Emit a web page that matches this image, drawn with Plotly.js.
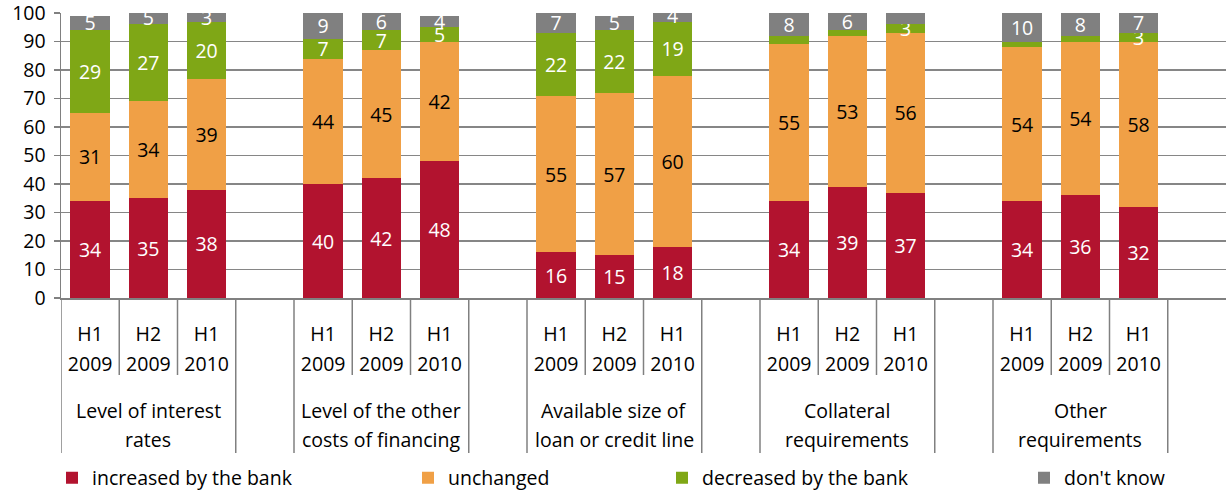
<!DOCTYPE html>
<html>
<head>
<meta charset="utf-8">
<script src="https://cdn.plot.ly/plotly-3.0.1.min.js"></script>
<style>html,body{margin:0;padding:0;background:#fff;}#chart{width:1226px;height:494px;}</style>
</head>
<body>
<div id="chart"></div>
<script>
// ---- data ----
const groups = ["Level of interest<br>rates", "Level of the other<br>costs of financing", "Available size of<br>loan or credit line", "Collateral<br>requirements", "Other<br>requirements"];
const periodHalf = ["H1", "H2", "H1"];
const periodYear = ["2009", "2009", "2010"];
const seriesNames = ["increased by the bank", "unchanged", "decreased by the bank", "don't know"];
const increased = [34, 35, 38, 40, 42, 48, 16, 15, 18, 34, 39, 37, 34, 36, 32];
const unchanged = [31, 34, 39, 44, 45, 42, 55, 57, 60, 55, 53, 56, 54, 54, 58];
const decreased = [29, 27, 20, 7, 7, 5, 22, 22, 19, 3, 2, 3, 2, 2, 3];
const dontKnow  = [5, 5, 3, 9, 6, 4, 7, 5, 4, 8, 6, 4, 10, 8, 7];
const increasedLabels = ["34","35","38","40","42","48","16","15","18","34","39","37","34","36","32"];
const unchangedLabels = ["31","34","39","44","45","42","55","57","60","55","53","56","54","54","58"];
const decreasedLabels = ["29","27","20","7","7","5","22","22","19","","","3","","","3"];
const dontKnowLabels  = ["5","5","3","9","6","4","7","5","4","8","6","","10","8","7"];

const FONT = "'Open Sans', sans-serif";
const FS = 19.5;
const colors = ["#B2132F", "#F0A046", "#7FA716", "#808080"];
const textColors = ["#ffffff", "#000000", "#ffffff", "#ffffff"];

// slot positions: 3 bars per group + 1 empty slot between groups
const xs = [], tickHalf = [], tickYear = [];
groups.forEach((g, gi) => {
  periodHalf.forEach((p, pi) => {
    xs.push(gi * 4 + pi);
    tickHalf.push(p);
    tickYear.push(periodYear[pi]);
  });
});

const values = [increased, unchanged, decreased, dontKnow];
const labels = [increasedLabels, unchangedLabels, decreasedLabels, dontKnowLabels];
const legendX = [71, 427, 681, 1043];
const plotL = 61, plotW = 1165;

const traces = values.map((v, i) => ({
  type: "bar",
  name: seriesNames[i],
  x: xs,
  y: v,
  text: labels[i],
  texttemplate: "%{text}",
  textposition: "inside",
  insidetextanchor: "middle",
  textangle: 0,
  constraintext: "none",
  textfont: {family: FONT, size: FS, color: textColors[i]},
  marker: {color: colors[i], line: {width: 0}},
  width: 0.68,
  hoverinfo: "skip",
  legend: i === 0 ? "legend" : "legend" + (i + 1)
}));

const shapes = [];
const nSlots = groups.length * 4 - 1;
for (let k = 0; k <= nSlots; k++) {
  const pos = k % 4;
  const isLong = (pos === 0 || pos === 3);
  shapes.push({
    type: "line", xref: "x", yref: "paper",
    ysizemode: "pixel", yanchor: 0,
    x0: k - 0.5, x1: k - 0.5, y0: 0, y1: isLong ? -155 : -77,
    line: {color: "#808080", width: 1.5}
  });
}

const annotations = [];
groups.forEach((g, gi) => {
  g.split("<br>").forEach((line, li) => {
    annotations.push({
      xref: "x", yref: "paper", x: gi * 4 + 1, y: 0,
      yshift: -112 - li * 29, yanchor: "middle", xanchor: "center",
      text: line, showarrow: false,
      font: {family: FONT, size: FS, color: "#000"}
    });
  });
});

const layout = {
  width: 1226, height: 494,
  margin: {l: plotL, r: 0, t: 13, b: 196, pad: 0, autoexpand: false},
  paper_bgcolor: "#fff", plot_bgcolor: "#fff",
  barmode: "stack",
  bargap: 0,
  font: {family: FONT, size: FS, color: "#000"},
  showlegend: true,
  xaxis: {
    range: [-0.5, nSlots + 0.5], tickmode: "array", tickvals: xs, ticktext: tickHalf,
    ticks: "", showgrid: false, zeroline: false,
    showline: true, linecolor: "#808080", linewidth: 1.5,
    tickfont: {family: FONT, size: FS, color: "#000"},
    ticklabelstandoff: 18, fixedrange: true
  },
  xaxis2: {
    overlaying: "x", matches: "x", anchor: "y", side: "bottom",
    range: [-0.5, nSlots + 0.5], tickmode: "array", tickvals: xs, ticktext: tickYear,
    ticks: "", showgrid: false, zeroline: false, showline: false,
    tickfont: {family: FONT, size: FS, color: "#000"},
    ticklabelstandoff: 52, fixedrange: true
  },
  yaxis: {
    range: [0, 100], dtick: 10, tick0: 0,
    showgrid: true, gridcolor: "#868686", gridwidth: 1.5,
    zeroline: false, showline: true, linecolor: "#808080", linewidth: 1.5,
    ticks: "outside", ticklen: 6, tickcolor: "#808080", tickwidth: 1.5,
    tickfont: {family: FONT, size: FS, color: "#000"},
    ticklabelstandoff: 4, ticklabeloverflow: "allow",
    fixedrange: true
  },
  shapes: shapes,
  annotations: annotations
};
legendX.forEach((px, i) => {
  const key = i === 0 ? "legend" : "legend" + (i + 1);
  layout[key] = {
    x: (px - 19 - plotL) / plotW, xanchor: "left",
    y: 16 / 494, yref: "container", yanchor: "middle",
    orientation: "h", bgcolor: "rgba(0,0,0,0)",
    font: {family: FONT, size: FS, color: "#000"},
    itemclick: false, itemdoubleclick: false
  };
});

// empty trace attached to x2 so the second tick-label row is drawn
traces.push({type: "bar", x: [], y: [], xaxis: "x2", yaxis: "y", showlegend: false, hoverinfo: "skip"});

Plotly.newPlot("chart", traces, layout, {displayModeBar: false, staticPlot: true});
</script>
</body>
</html>
